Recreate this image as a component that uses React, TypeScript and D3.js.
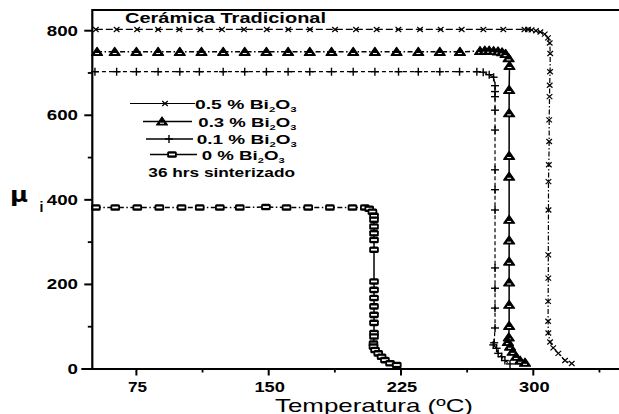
import React from "react";
import * as d3 from "d3";

// ---------- data ----------
const xTicksMajor = [75, 150, 225, 300];
const xTicksMinor = [112.5, 187.5, 262.5, 337.5];
const yTicksMajor = [0, 200, 400, 600, 800];
const yTicksMinor = [100, 300, 500, 700];

// 0.5 % Bi2O3 (x markers)
const t05 = [52, 63.8, 75.4, 87.3, 99.3, 111.3, 123.5, 136, 148.9, 161.1, 173.4, 187.6, 199.5, 211.2, 223.5, 235.8, 247.5, 259.4, 271.7, 283, 295,
  297, 299, 301.5, 304, 306.5, 308.3, 309.3, 309.6, 309.5, 309.3, 309.2, 309, 309, 308.8, 308.6, 308.6, 308.5, 308.5, 308.4, 308.4, 308.5, 309.5, 311.3, 314.2, 318, 321.8];
const mu05 = [803, 803, 803, 803, 803, 803, 803, 803, 803, 803, 803, 803, 803, 803, 803, 803, 803, 803, 803, 803, 803,
  803, 802, 800, 797, 792, 783, 771, 746, 703, 671, 644, 589, 538, 483, 443, 376, 270, 215, 160, 113, 85, 64, 50, 37, 20, 13, 15];

// 0.3 % Bi2O3 (triangles)
const t03 = [52.7, 62.7, 75, 87.3, 99.6, 111.9, 124.2, 136.4, 148.7, 161, 173.3, 185.6, 197.9, 210.2, 222.5, 234.8, 247, 258.4,
  269.8, 272.5, 275, 277.5, 280, 282.3, 284.3, 286, 286.5,
  286.3, 286.3, 286.3, 286.3, 286.3, 286.3, 286.3, 286.3, 286.3, 286.3, 286.1, 285.6, 286.8, 288.3, 290.2, 292.5, 295.3];
const mu03 = [750, 750, 750, 750, 750, 750, 750, 750, 750, 750, 750, 750, 750, 750, 750, 750, 750, 750,
  752, 753, 753, 752, 751, 749, 745, 735, 717,
  660, 605, 504, 455, 353, 304, 254, 205, 152, 102, 75, 64, 53, 41, 29, 20, 15];

// 0.1 % Bi2O3 (plus)
const t01 = [51.5, 63.8, 75, 87.3, 99.6, 110.7, 124.2, 136.4, 148.7, 161, 173.3, 185.6, 197.9, 210.2, 223.6, 234.8, 247, 258.2,
  268, 271.6, 275, 277.5, 278.3, 278.3, 278.3, 278.3, 278.3, 278.3, 278.3, 278.3, 278.3, 278.3, 278.3, 278.3,
  277.8, 277.3, 279.2, 280.1, 282.1, 283.9, 286.8];
const mu01 = [703, 703, 703, 703, 703, 703, 703, 703, 703, 703, 703, 703, 703, 703, 703, 703, 703, 703,
  703, 702, 696, 690, 670, 656, 644, 612, 565, 471, 424, 376, 239, 191, 144, 97,
  62, 57, 49, 37, 29, 20, 12];

// 0 % Bi2O3 (squares)
const t00 = [52, 63, 75.5, 88, 100.6, 110.9, 122.3, 133.6, 148.4, 160.1, 172.4, 184.7, 197.5,
  204.5, 207, 208.8, 209.7, 209.7, 209.7, 209.7, 209.7, 209.7, 209.7, 209.7, 209.7, 209.7, 209.7, 209.7, 209.7, 209.7,
  209.4, 209.4, 210.3, 212.1, 214, 215.9, 218.8, 222.6];
const mu00 = [382, 382, 382, 382, 382, 382, 382, 382, 383, 382, 382, 382, 382,
  382, 379, 372, 362, 353, 337, 321, 305, 282, 207, 187, 168, 148, 128, 109, 85, 77,
  60, 53, 45, 37, 29, 21, 13.5, 9.5];

const legendLabels = ["0.5 % Bi", "0.3 % Bi", "0.1 % Bi", "0 % Bi"];
const legendNote = "36 hrs sinterizado";
const chartTitle = "Cerámica Tradicional";
const xTitle = "Temperatura (ºC)";

// ---------- layout ----------
const W = 619;
const H = 414;
const x = d3.scaleLinear().domain([50, 350]).range([92.3, 621.5]);
const y = d3.scaleLinear().domain([0, 800]).range([369, 30.7]);
const topY = y(849);
const FONT = "'Liberation Sans', Arial, sans-serif";

type Kind = "x" | "tri" | "plus" | "sq";

function Marker({ kind, cx, cy }: { kind: Kind; cx: number; cy: number }) {
  if (kind === "x")
    return (
      <g transform={`translate(${cx},${cy})`} stroke="#000" strokeWidth={1.2}>
        <line x1={-2.8} y1={-2.5} x2={2.8} y2={2.5} />
        <line x1={-2.8} y1={2.5} x2={2.8} y2={-2.5} />
      </g>
    );
  if (kind === "plus")
    return (
      <g transform={`translate(${cx},${cy})`} stroke="#000" strokeWidth={1.4}>
        <line x1={-4} y1={0} x2={4} y2={0} />
        <line x1={0} y1={-4} x2={0} y2={4} />
      </g>
    );
  if (kind === "tri")
    return (
      <g transform={`translate(${cx},${cy})`}>
        <path d="M0,-4.5 L5.5,3.5 L-5.5,3.5 Z" fill="#000" stroke="#000" strokeWidth={1.2} strokeLinejoin="round" />
        <path d="M-2,1.7 L2,1.7" stroke="#fff" strokeWidth={1} />
      </g>
    );
  return (
    <g>
      <rect x={cx - 4.8} y={cy - 3.3} width={9.6} height={6.6} rx={1.6} fill="#000" />
      <rect x={cx - 3} y={cy - 0.9} width={6} height={1.8} fill="#fff" />
    </g>
  );
}

interface SeriesCfg {
  t: number[];
  mu: number[];
  kind: Kind;
  split: number;
  flatDash: string;
  dropDash: string;
  width: number;
}

const seriesList: SeriesCfg[] = [
  { t: t00, mu: mu00, kind: "sq", split: 13, flatDash: "5,2.5,1.5,2.5", dropDash: "none", width: 1.5 },
  { t: t01, mu: mu01, kind: "plus", split: 18, flatDash: "4,3", dropDash: "4,2.5", width: 1.2 },
  { t: t03, mu: mu03, kind: "tri", split: 18, flatDash: "5,2.5,1.5,2.5", dropDash: "none", width: 1.5 },
  { t: t05, mu: mu05, kind: "x", split: 21, flatDash: "7,3", dropDash: "5,2,1.5,2", width: 1.2 },
];

const line = d3
  .line<[number, number]>()
  .x((d) => x(d[0]))
  .y((d) => y(d[1]));

function Series({ s }: { s: SeriesCfg }) {
  const pts: [number, number][] = s.t.map((t, i) => [t, s.mu[i]]);
  const flat = pts.slice(0, s.split + 1);
  const drop = pts.slice(s.split);
  return (
    <g>
      <path d={line(flat) || ""} fill="none" stroke="#000" strokeWidth={s.width} strokeDasharray={s.flatDash} />
      <path d={line(drop) || ""} fill="none" stroke="#000" strokeWidth={s.width} strokeDasharray={s.dropDash} />
      {pts.map((p, i) => (
        <Marker key={i} kind={s.kind} cx={x(p[0])} cy={y(p[1])} />
      ))}
    </g>
  );
}

const legendRows = [
  { x1: 130, x2: 195, y: 103.5, mx: 165, tx: 195, w: 101.7, kind: "x" as Kind, sw: 1.2 },
  { x1: 143, x2: 192, y: 121.5, mx: 162, tx: 198.3, w: 98, kind: "tri" as Kind, sw: 1.6 },
  { x1: 146, x2: 193, y: 139, mx: 169, tx: 196.7, w: 100, kind: "plus" as Kind, sw: 1.4 },
  { x1: 150, x2: 197, y: 154.5, mx: 172, tx: 201.7, w: 83, kind: "sq" as Kind, sw: 1.6 },
];

export default function App() {
  return (
    <svg
      width={W}
      height={H}
      viewBox={`0 0 ${W} ${H}`}
      style={{ position: "absolute", left: 0, top: 0, background: "#fff" }}
      fontFamily={FONT}
    >
      <rect x={0} y={0} width={W} height={H} fill="#fff" />

      {/* series */}
      {seriesList.map((s, i) => (
        <Series key={i} s={s} />
      ))}

      {/* frame */}
      <line x1={x(50)} y1={topY} x2={W + 5} y2={topY} stroke="#000" strokeWidth={2} />
      <line x1={x(50)} y1={topY - 1} x2={x(50)} y2={y(0) + 1} stroke="#000" strokeWidth={2.2} />
      <line x1={x(50) - 11} y1={y(0)} x2={W + 5} y2={y(0)} stroke="#000" strokeWidth={2.2} />

      {/* y ticks */}
      {yTicksMajor.map((v) => (
        <g key={"ym" + v}>
          <line x1={x(50) - 8} x2={x(50)} y1={y(v)} y2={y(v)} stroke="#000" strokeWidth={2} />
          <text
            x={78}
            y={y(v) + 5}
            textAnchor="end"
            fontSize={14}
            fontWeight="bold"
            textLength={String(v).length * 10.4}
            lengthAdjust="spacingAndGlyphs"
          >
            {v}
          </text>
        </g>
      ))}
      {yTicksMinor.map((v) => (
        <line key={"yn" + v} x1={x(50) - 4.5} x2={x(50)} y1={y(v)} y2={y(v)} stroke="#000" strokeWidth={1.8} />
      ))}

      {/* x ticks */}
      {xTicksMajor.map((v) => (
        <g key={"xm" + v}>
          <line x1={x(v)} x2={x(v)} y1={y(0)} y2={y(0) + 6.5} stroke="#000" strokeWidth={2} />
          <text
            x={x(v) + 1}
            y={391.5}
            textAnchor="middle"
            fontSize={14}
            fontWeight="bold"
            textLength={String(v).length === 2 ? 19 : 30.5}
            lengthAdjust="spacingAndGlyphs"
          >
            {v}
          </text>
        </g>
      ))}
      {xTicksMinor.map((v) => (
        <line key={"xn" + v} x1={x(v)} x2={x(v)} y1={y(0)} y2={y(0) + 3.5} stroke="#000" strokeWidth={1.8} />
      ))}

      {/* axis titles */}
      <text x={275} y={411.5} fontSize={19} textLength={198} lengthAdjust="spacingAndGlyphs">
        {xTitle}
      </text>
      <text x={10} y={201.5} fontSize={21} fontWeight="bold" fontFamily="'DejaVu Sans', sans-serif" textLength={18} lengthAdjust="spacingAndGlyphs">
        μ
      </text>
      <text x={39.5} y={212} fontSize={14} fontWeight="bold">
        i
      </text>

      {/* chart title */}
      <text x={125} y={22.7} fontSize={14} fontWeight="bold" textLength={201} lengthAdjust="spacingAndGlyphs">
        {chartTitle}
      </text>

      {/* legend */}
      {legendRows.map((r, i) => (
        <g key={"lg" + i}>
          <line x1={r.x1} x2={r.x2} y1={r.y} y2={r.y} stroke="#000" strokeWidth={r.sw} />
          <Marker kind={r.kind} cx={r.mx} cy={r.y} />
          <text x={r.tx} y={r.y + 5} fontSize={13.5} fontWeight="bold" textLength={r.w} lengthAdjust="spacingAndGlyphs">
            {legendLabels[i]}
            <tspan fontSize={8} dy={3}>2</tspan>
            <tspan dy={-3}>O</tspan>
            <tspan fontSize={8} dy={3}>3</tspan>
          </text>
        </g>
      ))}
      <text x={148.3} y={176.5} fontSize={13.5} fontWeight="bold" textLength={146.7} lengthAdjust="spacingAndGlyphs">
        {legendNote}
      </text>
    </svg>
  );
}
